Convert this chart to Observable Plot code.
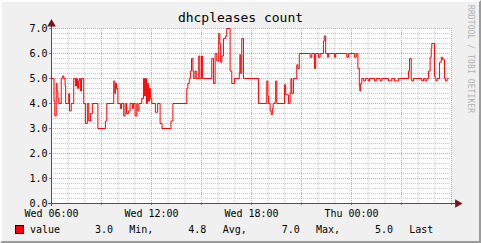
<!DOCTYPE html>
<html>
<head>
<meta charset="utf-8">
<script src="https://cdn.jsdelivr.net/npm/d3@7"></script>
<script src="https://cdn.jsdelivr.net/npm/@observablehq/plot@0.6"></script>
<style>
  html, body { margin: 0; padding: 0; background: #f0f0f0; }
  #wrap { position: relative; width: 481px; height: 243px; background: #f0f0f0; overflow: hidden;
          font-family: "DejaVu Sans Mono", monospace; }
  #frame { position: absolute; left: 0; top: 0; width: 481px; height: 243px; box-sizing: border-box;
           border-top: 2px solid #fcfcfc; border-left: 2px solid #fcfcfc;
           border-bottom: 2px solid #9c9c9c; border-right: 2px solid #9c9c9c; pointer-events: none; }
  #chart { position: absolute; left: 0; top: 0; }
  #title { position: absolute; left: 0; width: 481px; top: 11px; text-align: center; font-size: 13px; line-height: 13px; color: #000; }
  #mark { position: absolute; left: 466px; top: 5px; writing-mode: vertical-rl; font-size: 8px; line-height: 8px; color: #b0b0b0; letter-spacing: 0.1px; }
  .lg { position: absolute; top: 224.5px; font-size: 10px; line-height: 10px; color: #000; white-space: pre; }
  #swatch { position: absolute; left: 15px; top: 225px; width: 7px; height: 7px; background: #ff0000; border: 1px solid #000; }
</style>
</head>
<body>
<div id="wrap">
  <div id="chart"></div>
  <div id="title"></div>
  <div id="mark"></div>
  <div id="swatch"></div>
  <div id="legend"></div>
  <div id="frame"></div>
</div>
<script>
// ---- data (minutes since Wed 06:00, value) ----
const title = "dhcpleases count";
const watermark = "RRDTOOL / TOBI OETIKER";
const seriesName = "value";
const minutes = [0,9,12,17,20,23,26,35,39,44,49,51,62,65,71,80,86,90,94,97,101,104,108,116,122,129,134,140,147,167,194,199,224,228,230,234,239,248,252,260,265,270,277,283,292,295,301,307,311,315,325,331,335,338,342,346,349,353,356,361,374,382,391,398,430,437,487,491,496,500,504,509,512,517,521,530,534,540,544,577,583,589,595,602,606,609,613,619,627,631,643,649,659,676,678,681,685,691,745,775,779,781,787,791,795,798,805,807,811,839,843,853,859,862,865,871,883,887,892,931,937,947,951,961,967,979,982,987,994,997,1019,1023,1063,1069,1091,1097,1103,1108,1110,1113,1117,1124,1130,1140,1145,1163,1169,1183,1189,1213,1225,1235,1249,1285,1289,1295,1297,1303,1333,1339,1345,1351,1357,1363,1367,1369,1379,1381,1384,1388,1397,1403,1408,1415,1418,1424,1429];
const values  = [5.0,4.1,3.5,4.8,4.5,4.2,4.0,5.0,5.1,5.0,4.7,4.0,4.4,3.7,4.0,5.0,4.7,5.0,4.6,4.9,5.0,4.5,5.0,4.0,3.2,4.0,3.3,3.6,4.0,3.0,3.3,4.0,4.9,4.4,4.8,4.6,4.0,3.8,4.0,3.5,4.0,3.6,3.7,4.0,3.8,4.0,3.5,4.0,3.7,4.0,4.2,5.0,4.3,5.0,4.0,4.8,4.1,4.6,4.2,4.0,3.65,4.0,3.2,3.0,3.3,4.0,4.6,4.8,5.0,5.3,5.8,5.3,5.0,5.3,5.0,5.9,5.0,5.9,5.0,5.8,4.8,6.0,5.7,6.8,6.4,5.65,5.9,6.6,6.7,7.0,5.3,4.8,5.0,5.25,5.95,5.2,6.6,5.0,4.0,4.9,4.3,4.0,3.7,3.55,3.8,4.0,4.1,4.9,4.0,4.75,4.35,4.0,4.45,5.0,4.4,5.0,5.55,5.4,6.0,5.85,6.0,5.4,6.0,5.85,6.0,6.5,6.7,6.0,5.85,6.0,5.85,6.0,5.85,6.0,5.85,6.0,5.4,4.7,4.5,4.8,5.0,4.9,5.0,4.9,5.0,4.9,5.0,4.9,5.0,4.9,5.0,4.9,5.0,5.3,5.8,5.0,4.9,5.0,4.9,5.0,4.9,5.0,5.3,5.85,6.2,6.4,5.1,5.0,4.9,5.0,5.65,5.85,5.75,5.0,4.9,5.0,5.0];
const yTicks = [0, 1, 2, 3, 4, 5, 6, 7];
const statValues = ["3.0", "4.8", "7.0", "5.0"];
const statNames  = ["Min,", "Avg,", "Max,", "Last"];

// ---- build ----
const base = new Date(2024, 0, 10, 6, 0);          // a Wednesday, 06:00
const end = d3.timeHour.offset(base, 24);
const data = minutes.map((m, i) => ({t: d3.timeMinute.offset(base, m), v: values[i]}));

const allHours = d3.timeHour.range(base, d3.timeMinute.offset(end, 1));
const majorX = allHours.filter(d => d.getHours() % 3 === 0);
const minorX = allHours.filter(d => d.getHours() % 3 !== 0);
const labelX = allHours.filter(d => d.getHours() % 6 === 0 && d < end);
const minorY = d3.range(0, 7.01, 0.2).map(d => +d.toFixed(1)).filter(d => Math.abs(d - Math.round(d)) > 1e-6);
const yTop = yTicks[yTicks.length - 1];

const axisColor = "#5e4b4b";
const arrowColor = "#7a1515";

const plot = Plot.plot({
  width: 481,
  height: 243,
  marginLeft: 51,
  marginRight: 30,
  marginTop: 28,
  marginBottom: 40,
  style: {background: "transparent", fontFamily: "DejaVu Sans Mono", fontSize: "10px", color: "#000"},
  x: {type: "time", domain: [base, end], label: null},
  y: {domain: [0, yTop], label: null},
  marks: [
    Plot.frame({fill: "white", stroke: null}),
    Plot.ruleX(minorX, {stroke: "#c8c8c8", strokeDasharray: "1,1", strokeWidth: 1}),
    Plot.ruleY(minorY, {stroke: "#c8c8c8", strokeDasharray: "1,1", strokeWidth: 1}),
    Plot.ruleX(majorX, {stroke: "#e69a9a", strokeDasharray: "1,1", strokeWidth: 1}),
    Plot.ruleY(yTicks.slice(1), {stroke: "#e69a9a", strokeDasharray: "1,1", strokeWidth: 1}),
    Plot.axisX({ticks: majorX, tickSize: 2, tickFormat: () => "", stroke: "#d06060", label: null}),
    Plot.axisX({ticks: labelX, tickSize: 0, tickPadding: 6, tickFormat: d3.timeFormat("%a %H:%M"), fill: "#000", label: null}),
    Plot.axisY({ticks: yTicks, tickSize: 2, tickPadding: 2, tickFormat: d3.format(".1f"), stroke: "#d06060", fill: "#000", label: null}),
    Plot.line(data, {x: "t", y: "v", curve: "step-after", stroke: "#ff0000", strokeWidth: 1}),
    Plot.ruleY([0], {x1: d3.timeMinute.offset(base, -11), x2: d3.timeMinute.offset(end, 18), stroke: axisColor}),
    Plot.ruleX([base], {y1: -0.12, y2: yTop * 1.03, stroke: axisColor}),
    Plot.dot([{t: base, v: yTop * 1.026}], {x: "t", y: "v", symbol: "triangle", r: 3.2, fill: arrowColor, stroke: null}),
    Plot.dot([{t: d3.timeMinute.offset(end, 22), v: 0}], {x: "t", y: "v", symbol: "triangle", r: 3.2, rotate: 90, fill: arrowColor, stroke: null})
  ]
});
document.getElementById("chart").appendChild(plot);

document.getElementById("title").textContent = title;
document.getElementById("mark").textContent = watermark;

// legend pieces
const legend = document.getElementById("legend");
const pieces = [[seriesName, 30]];
const valX = [95, 188.3, 281.7, 375];
const nameX = [129.3, 222.7, 316, 409.3];
statValues.forEach((s, i) => { pieces.push([s, valX[i]]); pieces.push([statNames[i], nameX[i]]); });
pieces.forEach(([txt, x]) => {
  const s = document.createElement("div");
  s.className = "lg";
  s.style.left = x + "px";
  s.textContent = txt;
  legend.appendChild(s);
});
</script>
</body>
</html>
